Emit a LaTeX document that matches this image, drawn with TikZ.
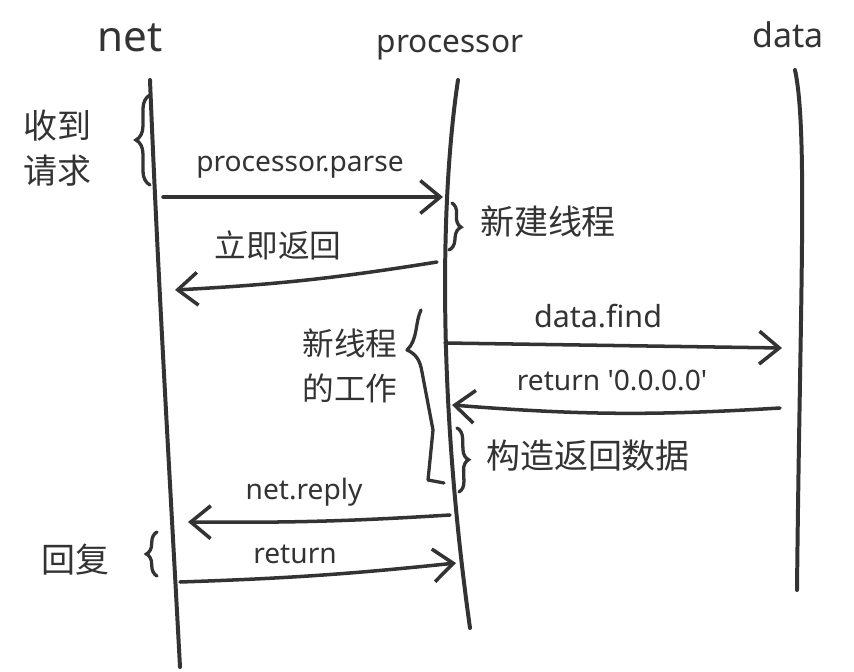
\documentclass[tikz,border=0pt]{standalone}
\usepackage{fontspec}
\setmainfont{Noto Sans CJK SC}
\newfontfamily\latinfont{Noto Sans}
\usepackage{tikz}
\usetikzlibrary{arrows.meta, positioning, decorations.pathreplacing}
\definecolor{ink}{HTML}{333333}

\begin{document}
\begin{tikzpicture}[x=0.03cm, y=-0.03cm,
  head/.style={font=\latinfont\fontsize{#1}{#1}\selectfont, text=ink, inner sep=0pt},
  life/.style={draw=ink, line width=3.4pt, line cap=round},
  msg/.style={draw=ink, line width=3pt, line cap=round,
              -{Straight Barb[length=17pt, width=28pt]}},
  lbl/.style={font=\latinfont\fontsize{24}{24}\selectfont, text=ink, inner sep=0pt},
  note/.style={font=\fontsize{29}{38}\selectfont, text=ink, align=center, inner sep=0pt},
  curly/.style={draw=ink, line width=2.8pt, line cap=round, decorate,
                decoration={brace, amplitude=#1}},
  curly/.default=9pt
]
\useasboundingbox[fill=white] (0,0) rectangle (854,672);

% Heads
\node[head=36] (net) at (130,38) {net};
\node[head=27] (proc) at (450,48) {processor};
\node[head=29] (data) at (788,35) {data};

% Lifelines
\coordinate (netTop) at (150,80);
\coordinate (netEnd) at (180,667);
\coordinate (procTop) at (458,80);
\coordinate (procEnd) at (470,628);
\coordinate (dataTop) at (795,70);
\coordinate (dataEnd) at (797,590);
\draw[life] (netTop) .. controls (158,280) and (170,480) .. (netEnd);
\draw[life] (procTop) .. controls (440,200) and (438,400) .. (procEnd);
\draw[life] (dataTop) .. controls (808,130) and (800,300) .. (dataEnd);

% Message ends
\coordinate (p1a) at (163,197);  \coordinate (p1b) at (443,197);
\coordinate (p2a) at (437,262);  \coordinate (p2b) at (175,290);
\coordinate (p3a) at (445,343);  \coordinate (p3b) at (782,348);
\coordinate (p4a) at (780,408);  \coordinate (p4b) at (452,405);
\coordinate (p5a) at (450,515);  \coordinate (p5b) at (188,522);
\coordinate (p6a) at (180,582);  \coordinate (p6b) at (456,563);

% Messages
\draw[msg] (p1a) -- (p1b);
\draw[msg] (p2a) to[bend left=3] (p2b);
\draw[msg] (p3a) -- (p3b);
\draw[msg] (p4a) to[bend left=4] (p4b);
\draw[msg] (p5a) to[bend left=2] (p5b);
\draw[msg] (p6a) to[bend right=2] (p6b);

% Message labels
\node[lbl] (parse) at (300,167) {processor.parse};
\node[note, font=\fontsize{27}{30}\selectfont] (back) at (278,245) {立即返回};
\node[lbl, font=\latinfont\fontsize{26}{26}\selectfont] (find) at (598,316) {data.find};
\node[lbl] (ret0) at (612,381) {return \textquotesingle0.0.0.0\textquotesingle};
\node[lbl] (reply) at (304,492) {net.reply};
\node[lbl] (ret) at (295,554) {return};

% Notes
\node[note] (recv) at (57,148) {收到\\请求};
\node[note] (spawn) at (548,222) {新建线程};
\node[note, font=\fontsize{27}{38}\selectfont] (work) at (350,366) {新线程\\的工作};
\node[note] (build) at (588,456) {构造返回数据};
\node[note] (answer) at (75,560) {回复};

% Braces
\draw[curly=12pt] (150,185) -- (150,95);
\draw[curly] (452,203) -- (449,250);
\draw[curly] (457,428) -- (459,492);
\draw[curly] (157,576) -- (157,532);
\draw[draw=ink, line width=2.8pt, line cap=round, line join=round]
  (421,310) .. controls (415,322) and (418,340) .. (407,350)
  .. controls (416,354) and (420,360) .. (422,372)
  -- (433,430) -- (428,480) -- (444,483);

\end{tikzpicture}
\end{document}
